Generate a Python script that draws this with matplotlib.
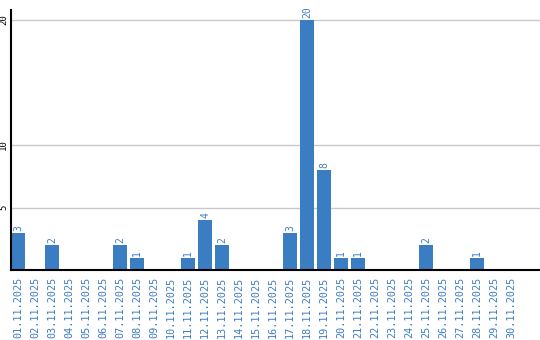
import matplotlib
matplotlib.use("Agg")
import matplotlib.pyplot as plt

# daily counts, November 2025
days = ["%02d.11.2025" % d for d in range(1, 31)]
counts = [3, 0, 2, 0, 0, 0, 2, 1, 0, 0,
          1, 4, 2, 0, 0, 0, 3, 20, 8, 1,
          1, 0, 0, 0, 2, 0, 0, 1, 0, 0]
yticks = [5, 10, 20]

blue = "#3b7dc3"

fig = plt.figure(figsize=(5.4, 3.4), dpi=100)
ax = fig.add_axes([11 / 540, 70 / 340, 529 / 540, 260 / 340])

x = list(range(len(days)))
ax.bar(x, counts, width=14 / 17, color=blue, zorder=2)

# value labels above non-zero bars
for xi, v in zip(x, counts):
    if v > 0:
        ax.text(xi, v + 0.15, str(v), rotation=90, ha="center", va="bottom",
                color=blue, fontsize=7, family="DejaVu Sans Mono")

ax.set_xlim(-0.41, 30.7)
ax.set_ylim(0, 20.8)

ax.set_yticks(yticks)
ax.set_yticklabels([str(t) for t in yticks], rotation=90, va="center",
                   fontsize=6.5, family="DejaVu Sans Mono")
ax.yaxis.grid(True, color="#c8c8c8", lw=1, zorder=0)
ax.tick_params(axis="y", length=0, pad=2)

ax.set_xticks(x)
ax.set_xticklabels(days, rotation=90, color=blue, fontsize=7.3,
                   family="DejaVu Sans Mono")
ax.tick_params(axis="x", length=0, pad=5)

for s in ["top", "right"]:
    ax.spines[s].set_visible(False)
ax.spines["left"].set_linewidth(1.5)
ax.spines["bottom"].set_linewidth(1.5)

fig.savefig("out.png", dpi=100)
